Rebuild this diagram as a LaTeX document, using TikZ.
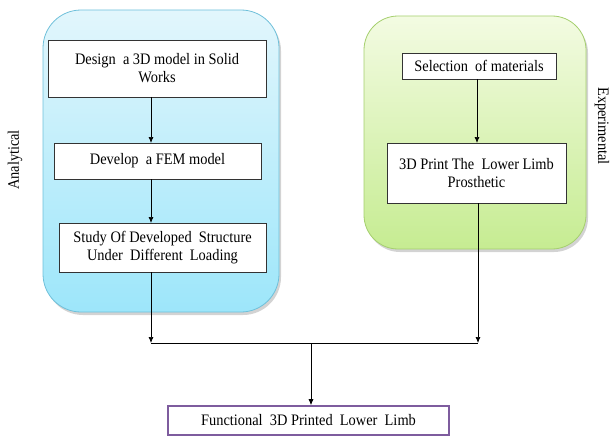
\documentclass[tikz,border=0pt]{standalone}
\usepackage{fontspec}
\setmainfont{Liberation Serif}[FakeStretch=0.9]
\usetikzlibrary{shadows,arrows.meta}
\definecolor{bluetop}{HTML}{E2F6FC}
\definecolor{bluebot}{HTML}{9DE6FA}
\definecolor{blueedge}{HTML}{6FC0DA}
\definecolor{greentop}{HTML}{F3FBE2}
\definecolor{greenbot}{HTML}{C6EC92}
\definecolor{greenedge}{HTML}{A5CF6E}
\definecolor{purpedge}{HTML}{7E5C9E}
\tikzset{
  panel/.style={rounded corners=38pt, line width=0.8pt, drop shadow={shadow xshift=2pt, shadow yshift=-3pt, opacity=0.35, fill=gray}},
  stepbox/.style={draw=black!80, line width=0.8pt, fill=white, align=center, inner sep=0pt, font=\fontsize{16}{18}\selectfont},
  conn/.style={line width=0.7pt, -{Latex[length=6pt,width=5pt]}},
  plain/.style={line width=0.7pt},
  side/.style={font=\fontsize{16}{18}\selectfont}
}
\begin{document}
\begin{tikzpicture}[x=1pt,y=-1pt]
\useasboundingbox (0,0) rectangle (611,436);
% panels
\path[panel, draw=blueedge, top color=bluetop, bottom color=bluebot] (43,10) rectangle (279,312);
\path[panel, rounded corners=34pt, draw=greenedge, top color=greentop, bottom color=greenbot] (364,16) rectangle (586,249);
% boxes
\node[stepbox, minimum width=218pt, minimum height=57pt] (b1) at (157,68.5) {Design \ a 3D model in Solid\\Works};
\node[stepbox, minimum width=207pt, minimum height=36pt] (b2) at (157.5,161) {Develop \ a FEM model};
\node[stepbox, minimum width=207pt, minimum height=49pt] (b3) at (162.5,247.5) {Study Of Developed \ Structure\\Under \ Different \ Loading};
\node[stepbox, minimum width=154pt, minimum height=26pt] (g1) at (479,66) {Selection \ of materials};
\node[stepbox, minimum width=179pt, minimum height=60pt] (g2) at (476.5,173) {3D Print The \ Lower Limb\\Prosthetic};
\node[stepbox, draw=purpedge, line width=1.6pt, minimum width=281pt, minimum height=29pt] (f) at (308.5,420.5) {Functional \ 3D Printed \ Lower \ Limb};
% side labels
\node[side, rotate=90] (an) at (15,160) {Analytical};
\node[side, rotate=-90] (ex) at (602,126) {Experimental};
% connectors
\coordinate (jl) at (151,343);
\coordinate (jr) at (478,343);
\coordinate (jm) at (311,343);
\draw[conn] (151,97) -- (151,143);
\draw[conn] (151,179) -- (151,223);
\draw[conn] (477,79) -- (477,143);
\draw[conn] (b3.south -| jl) -- (jl);
\draw[conn] (g2.south -| jr) -- (jr);
\draw[plain] (jl) -- (jr);
\draw[conn] (jm) -- (jm |- f.north);
\end{tikzpicture}
\end{document}
